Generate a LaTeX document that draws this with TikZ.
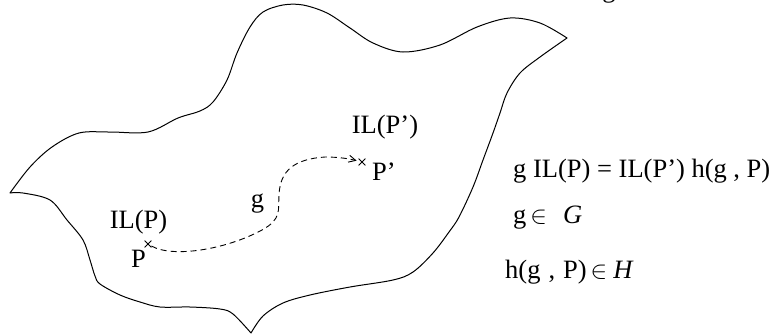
\documentclass[tikz,border=0pt]{standalone}
\usepackage{fontspec}
\setmainfont{Liberation Serif}
\usetikzlibrary{arrows.meta,shapes.misc}
\begin{document}
\begin{tikzpicture}[x=1pt,y=-1pt,
  font=\fontsize{26.5}{31}\selectfont,
  outline/.style={line width=1pt, line join=round},
  crossmark/.style={draw, cross out, minimum size=6pt, inner sep=0pt, line width=0.8pt},
  lbl/.style={inner sep=0pt, anchor=base},
  lblw/.style={inner sep=0pt, anchor=base west},
  gline/.style={line width=0.9pt, dash pattern=on 6pt off 4pt,
    -{Straight Barb[length=7pt,width=7pt]}, shorten >=2pt}]
\useasboundingbox (0,0) rectangle (773,335);
% manifold outline
\draw[outline]
  plot[smooth, tension=0.55] coordinates {(10,193) (30,167) (52,147) (79,133) (110,132) (148,132) (178,118) (200,111) (213,102) (227,80) (237,53) (250,27) (263,12) (283,5) (303,5) (327,13) (350,28) (373,43) (403,52) (440,45) (477,27) (510,18) (540,23) (567,38)}
  -- plot[smooth, tension=0.55] coordinates {(567,38) (540,57) (520,73) (507,93) (500,113) (493,133) (483,160) (473,187) (459,217) (449,232) (433,253) (413,272) (393,280) (350,287) (310,295) (283,303) (263,316) (251,333)}
  -- plot[smooth, tension=0.55] coordinates {(251,333) (233,314) (220,309) (190,307) (160,307) (140,302) (120,295) (100,284) (95,276) (90,260) (83,240) (67,220) (50,200) (23,193) (10,193)}
  -- cycle;
% points
\node[crossmark] (p) at (148,244) {};
\node[crossmark] (pp) at (362,162) {};
\node[lbl] (lp) at (138.5,267) {P};
\node[lbl] (ilp) at (138.5,228) {IL(P)};
\node[lblw] (lpp) at (372,180) {P’};
\node[lbl] (ilpp) at (385,133) {IL(P’)};
\node[lbl] (g) at (257.5,207) {g};
% path g
\draw[gline] (p) .. controls (172,258) and (225,250) .. (262,230)
  .. controls (282,219) and (278,210) .. (279,195)
  .. controls (280,170) and (295,159) .. (325,157)
  .. controls (340,157) and (350,159) .. (pp);
% relations
\node[lblw] (eq1) at (513,177) {g IL(P) = IL(P’) h(g , P)};
\node[lblw] (eq2) at (513,223) {g\hspace{4pt}$\in$\hspace{16pt}\textit{G}};
\node[lblw] (eq3) at (505,278) {h(g\hspace{8pt},\hspace{8pt}P)\hspace{4pt}$\in$\hspace{6pt}\textit{H}};
% partial label at top edge
\node[lbl] (topg) at (609,-3) {g};
\end{tikzpicture}
\end{document}
